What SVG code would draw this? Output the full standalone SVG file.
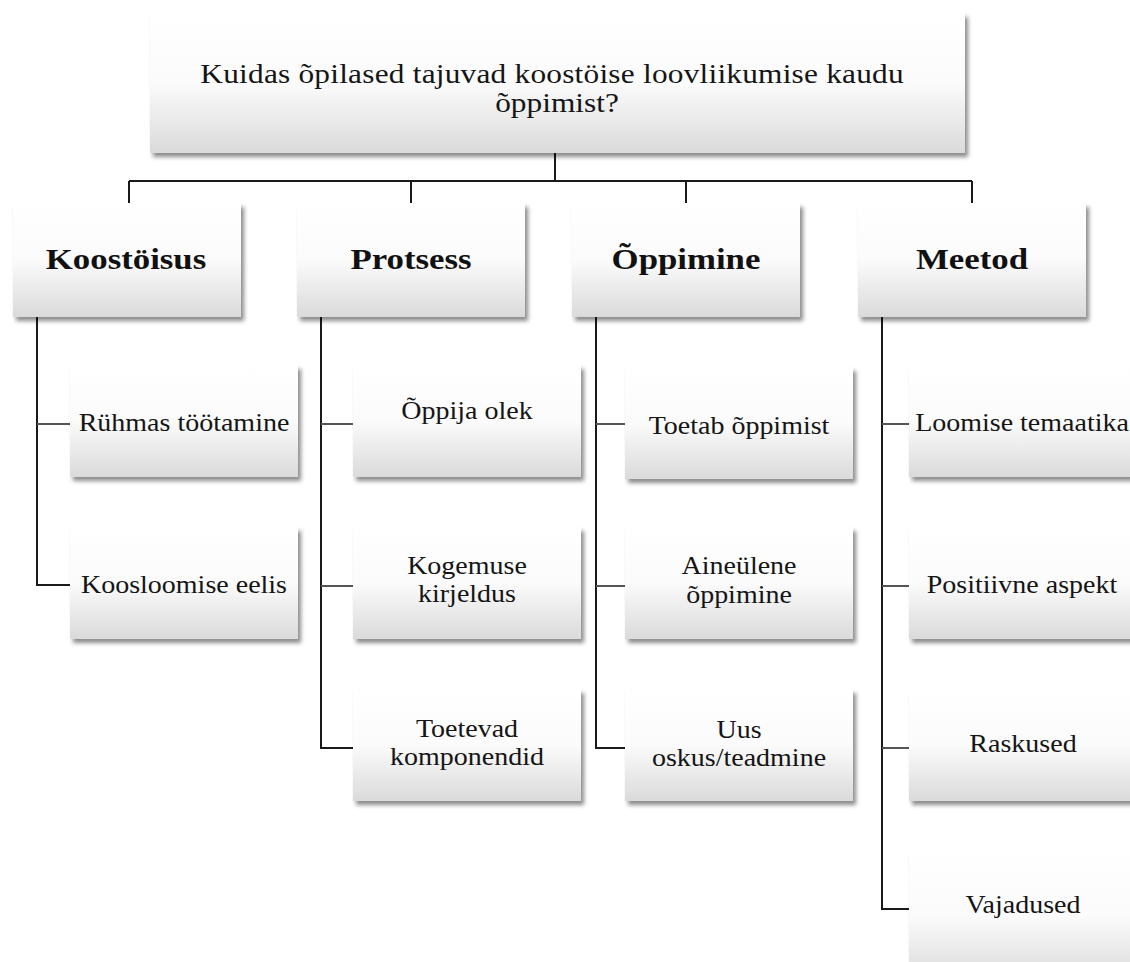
<svg xmlns="http://www.w3.org/2000/svg" width="1130" height="962" viewBox="0 0 1130 962">
<defs>
<linearGradient id="g" x1="0" y1="0" x2="0" y2="1">
<stop offset="0" stop-color="#ffffff"/>
<stop offset="0.5" stop-color="#fbfbfb"/>
<stop offset="1" stop-color="#dadada"/>
</linearGradient>
<filter id="sh" x="-10%" y="-10%" width="125%" height="130%">
<feDropShadow dx="3" dy="4" stdDeviation="2" flood-color="#000" flood-opacity="0.45"/>
</filter>
</defs>
<style>
.box{fill:url(#g);filter:url(#sh);}
.t{font-family:"Liberation Serif","Times New Roman",serif;font-size:25px;fill:#151515;text-anchor:middle;}
.b{font-family:"Liberation Serif","Times New Roman",serif;font-size:30px;font-weight:bold;fill:#111;text-anchor:middle;}
.h{font-family:"Liberation Serif","Times New Roman",serif;font-size:28px;fill:#151515;text-anchor:middle;}
.c{fill:none;stroke:#1a1a1a;stroke-width:2;}
.s{fill:none;stroke:#555;stroke-width:2;}
</style>
<g id="connectors">
<path class="c" d="M555 153V181M129 181H972M129 181V203M411 181V203M686 181V203M972 181V203"/>
<path class="c" d="M37 317V585H70M321 317V748H353M596 317V748H625M882 317V909H909"/>
<path class="s" d="M37 424H70M321 424H353M321 586H353M596 424H625M596 586H625M882 424H909M882 586H909M882 748H909"/>
</g>
<g id="root">
<rect class="box" x="150" y="13" width="815" height="140"/>
<text class="h" transform="translate(552,83) scale(1.12,1)" textLength="628" lengthAdjust="spacing" x="0" y="0">Kuidas õpilased  tajuvad koostöise loovliikumise  kaudu</text>
<text class="h" transform="translate(557,112) scale(1.12,1)">õppimist?</text>
</g>
<g id="koostoisus">
<rect class="box" x="13" y="203" width="228" height="114"/>
<text class="b" transform="translate(126,269) scale(1.16,1)">Koostöisus</text>
</g>
<g id="protsess">
<rect class="box" x="297" y="203" width="228" height="114"/>
<text class="b" transform="translate(411,269) scale(1.16,1)">Protsess</text>
</g>
<g id="oppimine">
<rect class="box" x="572" y="203" width="228" height="114"/>
<text class="b" transform="translate(686,269) scale(1.16,1)">Õppimine</text>
</g>
<g id="meetod">
<rect class="box" x="858" y="203" width="228" height="114"/>
<text class="b" transform="translate(972,269) scale(1.16,1)">Meetod</text>
</g>
<g id="ruhmas">
<rect class="box" x="70" y="365" width="228" height="112"/>
<text class="t" transform="translate(184,431) scale(1.12,1)">Rühmas töötamine</text>
</g>
<g id="koosloomise">
<rect class="box" x="70" y="527" width="228" height="112"/>
<text class="t" transform="translate(184,593) scale(1.12,1)">Koosloomise  eelis</text>
</g>
<g id="oppija">
<rect class="box" x="353" y="365" width="228" height="112"/>
<text class="t" transform="translate(467,419) scale(1.12,1)">Õppija  olek</text>
</g>
<g id="kogemuse">
<rect class="box" x="353" y="527" width="228" height="112"/>
<text class="t" transform="translate(467,574) scale(1.12,1)">Kogemuse</text>
<text class="t" transform="translate(467,602) scale(1.12,1)">kirjeldus</text>
</g>
<g id="toetevad">
<rect class="box" x="353" y="689" width="228" height="112"/>
<text class="t" transform="translate(467,737) scale(1.12,1)">Toetevad</text>
<text class="t" transform="translate(467,765) scale(1.12,1)">komponendid</text>
</g>
<g id="toetab">
<rect class="box" x="625" y="367" width="228" height="112"/>
<text class="t" transform="translate(739,434) scale(1.12,1)">Toetab õppimist</text>
</g>
<g id="aineulene">
<rect class="box" x="625" y="527" width="228" height="112"/>
<text class="t" transform="translate(739,574) scale(1.12,1)">Aineülene</text>
<text class="t" transform="translate(739,603) scale(1.12,1)">õppimine</text>
</g>
<g id="uus">
<rect class="box" x="625" y="689" width="228" height="112"/>
<text class="t" transform="translate(739,738) scale(1.12,1)">Uus</text>
<text class="t" transform="translate(739,766) scale(1.12,1)">oskus/teadmine</text>
</g>
<g id="loomise">
<rect class="box" x="909" y="365" width="228" height="112"/>
<text class="t" transform="translate(1022,431) scale(1.12,1)">Loomise temaatika</text>
</g>
<g id="positiivne">
<rect class="box" x="909" y="527" width="228" height="112"/>
<text class="t" transform="translate(1022,593) scale(1.12,1)">Positiivne  aspekt</text>
</g>
<g id="raskused">
<rect class="box" x="909" y="689" width="228" height="112"/>
<text class="t" transform="translate(1023,752) scale(1.12,1)">Raskused</text>
</g>
<g id="vajadused">
<rect class="box" x="909" y="851" width="228" height="130"/>
<text class="t" transform="translate(1023,913) scale(1.12,1)">Vajadused</text>
</g>
</svg>
